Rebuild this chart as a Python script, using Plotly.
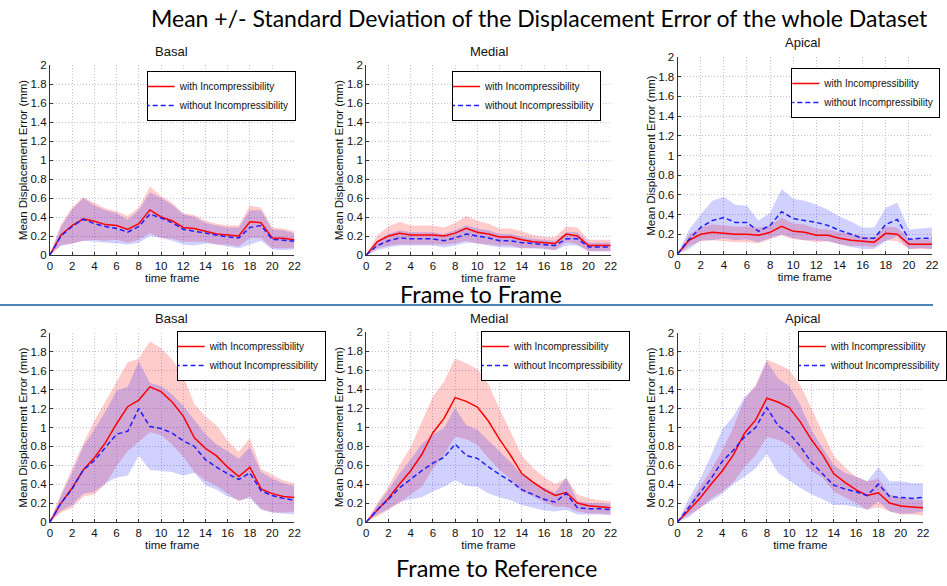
import plotly.graph_objects as go

frames = list(range(23))

# ---------------- Frame to Frame ----------------
f2f_basal_with_mean = [0, 0.21, 0.31, 0.38, 0.355, 0.32, 0.31, 0.27, 0.33, 0.475, 0.40, 0.36, 0.29, 0.28, 0.25, 0.22, 0.21, 0.20, 0.35, 0.34, 0.18, 0.175, 0.16]
f2f_basal_with_std = [0, 0.11, 0.19, 0.23, 0.195, 0.17, 0.15, 0.14, 0.17, 0.245, 0.22, 0.19, 0.15, 0.14, 0.11, 0.11, 0.10, 0.11, 0.17, 0.16, 0.11, 0.105, 0.09]
f2f_basal_without_mean = [0, 0.20, 0.30, 0.375, 0.33, 0.30, 0.28, 0.24, 0.30, 0.43, 0.39, 0.34, 0.27, 0.25, 0.23, 0.21, 0.19, 0.18, 0.29, 0.31, 0.165, 0.155, 0.145]
f2f_basal_without_std = [0, 0.10, 0.18, 0.225, 0.19, 0.17, 0.16, 0.13, 0.17, 0.23, 0.21, 0.19, 0.16, 0.15, 0.11, 0.10, 0.10, 0.11, 0.18, 0.16, 0.105, 0.105, 0.085]

f2f_medial_with_mean = [0, 0.14, 0.20, 0.23, 0.21, 0.21, 0.21, 0.20, 0.23, 0.28, 0.24, 0.22, 0.19, 0.19, 0.16, 0.14, 0.13, 0.12, 0.22, 0.20, 0.10, 0.10, 0.10]
f2f_medial_with_std = [0, 0.07, 0.10, 0.12, 0.10, 0.10, 0.10, 0.09, 0.11, 0.13, 0.12, 0.11, 0.09, 0.09, 0.09, 0.07, 0.06, 0.07, 0.08, 0.09, 0.06, 0.06, 0.06]
f2f_medial_without_mean = [0, 0.10, 0.15, 0.18, 0.17, 0.17, 0.17, 0.15, 0.18, 0.22, 0.20, 0.18, 0.15, 0.15, 0.13, 0.12, 0.11, 0.10, 0.17, 0.17, 0.085, 0.085, 0.085]
f2f_medial_without_std = [0, 0.05, 0.07, 0.08, 0.07, 0.07, 0.07, 0.07, 0.08, 0.09, 0.08, 0.08, 0.07, 0.07, 0.06, 0.05, 0.05, 0.05, 0.07, 0.07, 0.045, 0.045, 0.045]

f2f_apical_with_mean = [0, 0.14, 0.20, 0.22, 0.21, 0.20, 0.20, 0.19, 0.22, 0.28, 0.23, 0.22, 0.19, 0.19, 0.16, 0.14, 0.13, 0.12, 0.21, 0.20, 0.10, 0.10, 0.10]
f2f_apical_with_std = [0, 0.06, 0.07, 0.08, 0.08, 0.08, 0.08, 0.08, 0.07, 0.09, 0.08, 0.08, 0.07, 0.06, 0.06, 0.06, 0.05, 0.05, 0.07, 0.07, 0.05, 0.05, 0.05]
f2f_apical_without_mean = [0, 0.15, 0.27, 0.34, 0.37, 0.32, 0.32, 0.23, 0.29, 0.43, 0.36, 0.34, 0.32, 0.29, 0.24, 0.20, 0.16, 0.16, 0.30, 0.35, 0.15, 0.16, 0.16]
f2f_apical_without_std = [0, 0.10, 0.13, 0.20, 0.21, 0.18, 0.17, 0.11, 0.13, 0.23, 0.20, 0.20, 0.18, 0.16, 0.14, 0.13, 0.11, 0.11, 0.17, 0.17, 0.10, 0.10, 0.11]

# ---------------- Frame to Reference ----------------
f2r_basal_with_mean = [0, 0.20, 0.36, 0.55, 0.68, 0.84, 1.04, 1.22, 1.29, 1.43, 1.38, 1.27, 1.12, 0.89, 0.78, 0.70, 0.58, 0.48, 0.58, 0.35, 0.30, 0.27, 0.26]
f2r_basal_with_std = [0, 0.10, 0.21, 0.28, 0.39, 0.44, 0.45, 0.47, 0.44, 0.48, 0.46, 0.45, 0.43, 0.36, 0.34, 0.32, 0.28, 0.26, 0.31, 0.21, 0.20, 0.17, 0.15]
f2r_basal_without_mean = [0, 0.20, 0.35, 0.55, 0.65, 0.79, 0.93, 0.96, 1.20, 1.01, 0.99, 0.94, 0.86, 0.80, 0.66, 0.58, 0.51, 0.45, 0.52, 0.33, 0.28, 0.25, 0.23]
f2r_basal_without_std = [0, 0.08, 0.17, 0.25, 0.33, 0.38, 0.46, 0.47, 0.50, 0.46, 0.45, 0.41, 0.37, 0.28, 0.27, 0.24, 0.24, 0.22, 0.27, 0.20, 0.18, 0.16, 0.15]

f2r_medial_with_mean = [0, 0.13, 0.25, 0.40, 0.54, 0.71, 0.94, 1.09, 1.31, 1.27, 1.21, 1.06, 0.87, 0.70, 0.51, 0.42, 0.34, 0.28, 0.31, 0.20, 0.17, 0.16, 0.15]
f2r_medial_with_std = [0, 0.07, 0.12, 0.20, 0.25, 0.34, 0.38, 0.39, 0.41, 0.40, 0.40, 0.39, 0.32, 0.25, 0.19, 0.15, 0.13, 0.12, 0.15, 0.09, 0.08, 0.07, 0.07]
f2r_medial_without_mean = [0, 0.13, 0.24, 0.36, 0.45, 0.54, 0.62, 0.68, 0.82, 0.70, 0.67, 0.58, 0.50, 0.43, 0.34, 0.29, 0.24, 0.21, 0.30, 0.15, 0.14, 0.14, 0.13]
f2r_medial_without_std = [0, 0.05, 0.10, 0.15, 0.21, 0.28, 0.30, 0.31, 0.38, 0.32, 0.30, 0.28, 0.24, 0.20, 0.16, 0.14, 0.12, 0.10, 0.17, 0.07, 0.06, 0.06, 0.06]

f2r_apical_with_mean = [0, 0.13, 0.25, 0.40, 0.54, 0.71, 0.94, 1.08, 1.31, 1.27, 1.21, 1.06, 0.87, 0.71, 0.51, 0.42, 0.34, 0.28, 0.31, 0.20, 0.17, 0.16, 0.15]
f2r_apical_with_std = [0, 0.05, 0.11, 0.15, 0.22, 0.29, 0.36, 0.37, 0.41, 0.40, 0.40, 0.39, 0.33, 0.24, 0.19, 0.16, 0.14, 0.15, 0.15, 0.09, 0.09, 0.08, 0.08]
f2r_apical_without_mean = [0, 0.15, 0.30, 0.46, 0.64, 0.76, 0.90, 1.00, 1.21, 1.02, 0.94, 0.80, 0.63, 0.51, 0.39, 0.35, 0.32, 0.28, 0.40, 0.27, 0.26, 0.25, 0.26]
f2r_apical_without_std = [0, 0.10, 0.15, 0.24, 0.34, 0.36, 0.42, 0.43, 0.49, 0.50, 0.50, 0.44, 0.34, 0.27, 0.21, 0.17, 0.16, 0.15, 0.18, 0.16, 0.17, 0.16, 0.15]

x_ticks = list(range(0, 23, 2))
y_ticks = [0, 0.2, 0.4, 0.6, 0.8, 1, 1.2, 1.4, 1.6, 1.8, 2]
y_tick_labels = ["0", "0.2", "0.4", "0.6", "0.8", "1", "1.2", "1.4", "1.6", "1.8", "2"]

main_title = "Mean +/- Standard Deviation of the Displacement Error of the whole Dataset"
row_titles = ["Frame to Frame", "Frame to Reference"]
panel_titles = ["Basal", "Medial", "Apical", "Basal", "Medial", "Apical"]
series_names = ["with Incompressibility", "without Incompressibility"]

panels = [
    (f2f_basal_with_mean, f2f_basal_with_std, f2f_basal_without_mean, f2f_basal_without_std),
    (f2f_medial_with_mean, f2f_medial_with_std, f2f_medial_without_mean, f2f_medial_without_std),
    (f2f_apical_with_mean, f2f_apical_with_std, f2f_apical_without_mean, f2f_apical_without_std),
    (f2r_basal_with_mean, f2r_basal_with_std, f2r_basal_without_mean, f2r_basal_without_std),
    (f2r_medial_with_mean, f2r_medial_with_std, f2r_medial_without_mean, f2r_medial_without_std),
    (f2r_apical_with_mean, f2r_apical_with_std, f2r_apical_without_mean, f2r_apical_without_std),
]

W, H = 947, 586
# plot areas in pixels: (left, right, top, bottom)
boxes = [
    (50, 295, 65, 255), (367, 612, 65, 255), (679, 934, 57, 254),
    (50, 295, 333, 522), (367, 612, 332, 522), (679, 925, 333, 522),
]
# legend top-left corners in pixels
legend_pos = [(147, 71), (453, 71), (793, 68), (177, 331), (482, 331), (800, 331)]
title_pos = [(172, 52), (490, 52), (805, 43), (172, 318), (490, 318), (805, 318)]

RED = "rgb(255,0,0)"
BLUE = "rgb(30,30,255)"
RED_FILL = "rgba(255,0,0,0.2)"
BLUE_FILL = "rgba(0,0,255,0.18)"
FONT = "Liberation Sans, Arial, sans-serif"
TITLE_FONT = "Lato, Open Sans, sans-serif"

fig = go.Figure()
layout = {}
annotations = []

for i, (wm, ws, om, os_) in enumerate(panels):
    n = i + 1
    xa = "x" if n == 1 else f"x{n}"
    ya = "y" if n == 1 else f"y{n}"
    lg = "legend" if n == 1 else f"legend{n}"
    rev = frames[::-1]
    for m, s, fc in ((wm, ws, RED_FILL), (om, os_, BLUE_FILL)):
        upper = [a + b for a, b in zip(m, s)]
        lower = [max(a - b, 0) for a, b in zip(m, s)]
        fig.add_trace(go.Scatter(
            x=frames + rev, y=upper + lower[::-1], fill="toself", fillcolor=fc,
            line=dict(width=0), mode="lines", showlegend=False, hoverinfo="skip",
            xaxis=xa, yaxis=ya))
    fig.add_trace(go.Scatter(x=frames, y=wm, mode="lines", name=series_names[0],
                             line=dict(color=RED, width=1.5), xaxis=xa, yaxis=ya, legend=lg))
    fig.add_trace(go.Scatter(x=frames, y=om, mode="lines", name=series_names[1],
                             line=dict(color=BLUE, width=1.5, dash="5px,3px"), xaxis=xa, yaxis=ya, legend=lg))

    l, r, t, b = boxes[i]
    axis_common = dict(
        showgrid=True, gridcolor="rgba(175,165,220,0.75)", griddash="1px,2px", gridwidth=1,
        showline=True, linecolor="#333", linewidth=1, ticks="inside", ticklen=3,
        tickcolor="#333", zeroline=False, automargin=False,
        tickfont=dict(family=FONT, size=11.5, color="#111"),
    )
    layout["xaxis" if n == 1 else f"xaxis{n}"] = dict(
        domain=[l / W, r / W], anchor=ya, range=[0, 22], tickvals=x_ticks,
        title=dict(text="time frame", font=dict(family=FONT, size=11.5, color="#111"), standoff=0),
        **axis_common)
    layout["yaxis" if n == 1 else f"yaxis{n}"] = dict(
        domain=[1 - b / H, 1 - t / H], anchor=xa, range=[0, 2], tickvals=y_ticks,
        ticktext=y_tick_labels,
        title=dict(text="Mean Displacement Error (mm)", font=dict(family=FONT, size=11.5, color="#111"), standoff=0),
        **axis_common)
    lx, ly = legend_pos[i]
    layout[lg] = dict(
        x=lx / W, y=1 - ly / H, xanchor="left", yanchor="top",
        bordercolor="black", borderwidth=1, bgcolor="white",
        font=dict(family=FONT, size=10, color="#111"), tracegroupgap=0,
        itemwidth=30, indentation=-8,
    )
    tx, ty = title_pos[i]
    annotations.append(dict(text=panel_titles[i], x=tx / W, y=1 - ty / H, xref="paper", yref="paper",
                            showarrow=False, font=dict(family=FONT, size=13, color="#111"),
                            xanchor="center", yanchor="middle"))

annotations.append(dict(text=main_title, x=541 / W, y=1 - 18 / H, xref="paper", yref="paper",
                        showarrow=False, font=dict(family=TITLE_FONT, size=23, color="black"),
                        xanchor="center", yanchor="middle"))
annotations.append(dict(text=row_titles[0], x=482 / W, y=1 - 294 / H, xref="paper", yref="paper",
                        showarrow=False, font=dict(family=TITLE_FONT, size=23.5, color="black"),
                        xanchor="center", yanchor="middle"))
annotations.append(dict(text=row_titles[1], x=498 / W, y=1 - 568 / H, xref="paper", yref="paper",
                        showarrow=False, font=dict(family=TITLE_FONT, size=23.5, color="black"),
                        xanchor="center", yanchor="middle"))

shapes = [dict(type="line", xref="paper", yref="paper", x0=0, x1=935 / W,
               y0=1 - 305 / H, y1=1 - 305 / H, line=dict(color="rgb(79,129,189)", width=2))]

fig.update_layout(
    width=W, height=H, margin=dict(l=0, r=0, t=0, b=0),
    paper_bgcolor="white", plot_bgcolor="white",
    annotations=annotations, shapes=shapes, hovermode=False,
    **layout,
)

fig.write_html("out.html", config={"displayModeBar": False},
               post_script="document.body.style.margin='0';document.body.style.overflow='hidden';")
